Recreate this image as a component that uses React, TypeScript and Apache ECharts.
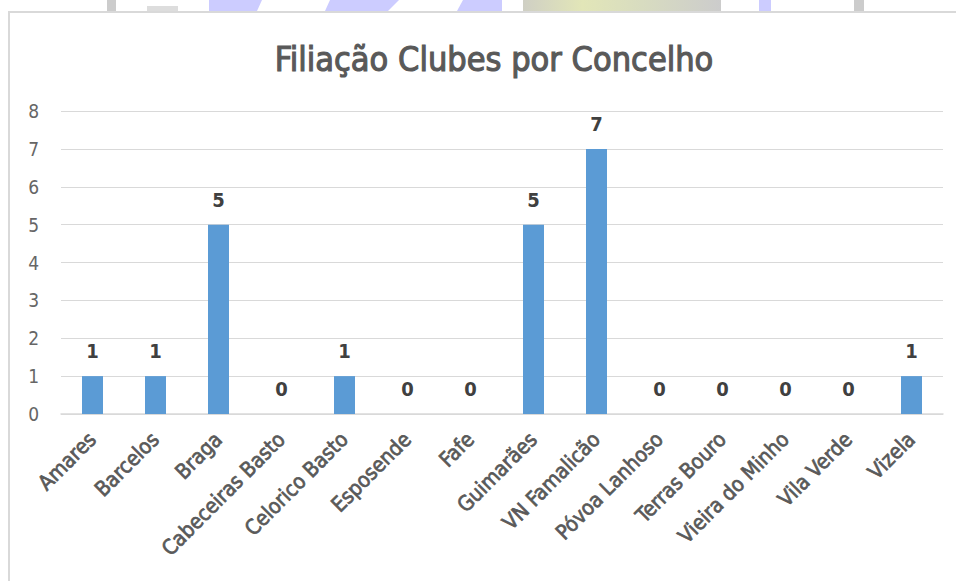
import React, { useEffect, useRef } from "react";
import * as echarts from "echarts";

const categories = [
  "Amares",
  "Barcelos",
  "Braga",
  "Cabeceiras Basto",
  "Celorico Basto",
  "Esposende",
  "Fafe",
  "Guimarães",
  "VN Famalicão",
  "Póvoa Lanhoso",
  "Terras Bouro",
  "Vieira do Minho",
  "Vila Verde",
  "Vizela",
];
const clubes = [1, 1, 5, 0, 1, 0, 0, 5, 7, 0, 0, 0, 0, 1];
const titleText = "Filiação Clubes por Concelho";

const NARROW = '"Liberation Sans Narrow", "DejaVu Sans Condensed", "Roboto Condensed", "Liberation Sans", sans-serif';

export default function App() {
  const ref = useRef<HTMLDivElement>(null);
  useEffect(() => {
    if (!ref.current) return;
    const chart = echarts.init(ref.current, null, { renderer: "svg" });
    chart.setOption({
      animation: false,
      backgroundColor: "#ffffff",
      title: {
        text: titleText,
        left: 489,
        top: 37,
        textAlign: "center",
        textStyle: {
          fontFamily: NARROW,
          fontSize: 34,
          fontWeight: "normal",
          color: "#595959",
          textBorderColor: "#595959",
          textBorderWidth: 1.1,
        },
      },
      grid: { left: 61, right: 13, top: 111, bottom: 167, containLabel: false },
      xAxis: {
        type: "category",
        data: categories,
        axisLine: { show: true, lineStyle: { color: "#d9d9d9", width: 1.5 } },
        axisTick: { show: false },
        axisLabel: {
          rotate: 45,
          interval: 0,
          margin: 22,
          fontFamily: NARROW,
          fontSize: 21,
          fontWeight: "normal",
          color: "#595959",
          textBorderColor: "#595959",
          textBorderWidth: 0.7,
        },
      },
      yAxis: {
        type: "value",
        min: 0,
        max: 8,
        interval: 1,
        axisLine: { show: false },
        axisTick: { show: false },
        splitLine: { lineStyle: { color: "#d9d9d9", width: 1 } },
        axisLabel: {
          margin: 22,
          fontFamily: NARROW,
          fontSize: 19,
          color: "#666666",
        },
      },
      series: [
        {
          type: "bar",
          data: clubes,
          barWidth: 21,
          itemStyle: { color: "#5b9bd5" },
          label: {
            show: true,
            position: "top",
            distance: 15,
            fontFamily: NARROW,
            fontSize: 20,
            fontWeight: "bold",
            color: "#404040",
          },
        },
      ],
      graphic: [
        { type: "rect", shape: { x: 107, y: 0, width: 9, height: 11 }, style: { fill: "#cccccc" } },
        { type: "rect", shape: { x: 147, y: 6, width: 31, height: 5 }, style: { fill: "#dddddd" } },
        { type: "polygon", shape: { points: [[209, 0], [262, 0], [257, 11], [209, 11]] }, style: { fill: "#ccccff" } },
        { type: "polygon", shape: { points: [[330, 0], [399, 0], [388, 11], [325, 11]] }, style: { fill: "#ccccff" } },
        { type: "polygon", shape: { points: [[463, 0], [502, 0], [502, 11], [457, 11]] }, style: { fill: "#ccccff" } },
        {
          type: "rect",
          shape: { x: 523, y: 0, width: 198, height: 11 },
          style: {
            fill: new echarts.graphic.LinearGradient(0, 0, 1, 0, [
              { offset: 0, color: "#cfcfc4" },
              { offset: 0.3, color: "#e2e6b8" },
              { offset: 0.6, color: "#d8dcc0" },
              { offset: 1, color: "#cccccc" },
            ]),
          },
        },
        { type: "rect", shape: { x: 759, y: 0, width: 12, height: 11 }, style: { fill: "#ccccff" } },
        { type: "rect", shape: { x: 854, y: 0, width: 10, height: 11 }, style: { fill: "#cccccc" } },
        { type: "line", shape: { x1: 8, y1: 12, x2: 956, y2: 12 }, style: { stroke: "#d9d9d9", lineWidth: 2 } },
        { type: "line", shape: { x1: 9, y1: 12, x2: 9, y2: 581 }, style: { stroke: "#d9d9d9", lineWidth: 2 } },
      ],
    });
    return () => chart.dispose();
  }, []);
  return (
    <div
      ref={ref}
      style={{ position: "fixed", left: 0, top: 0, width: 956, height: 581, background: "#fff" }}
    />
  );
}
